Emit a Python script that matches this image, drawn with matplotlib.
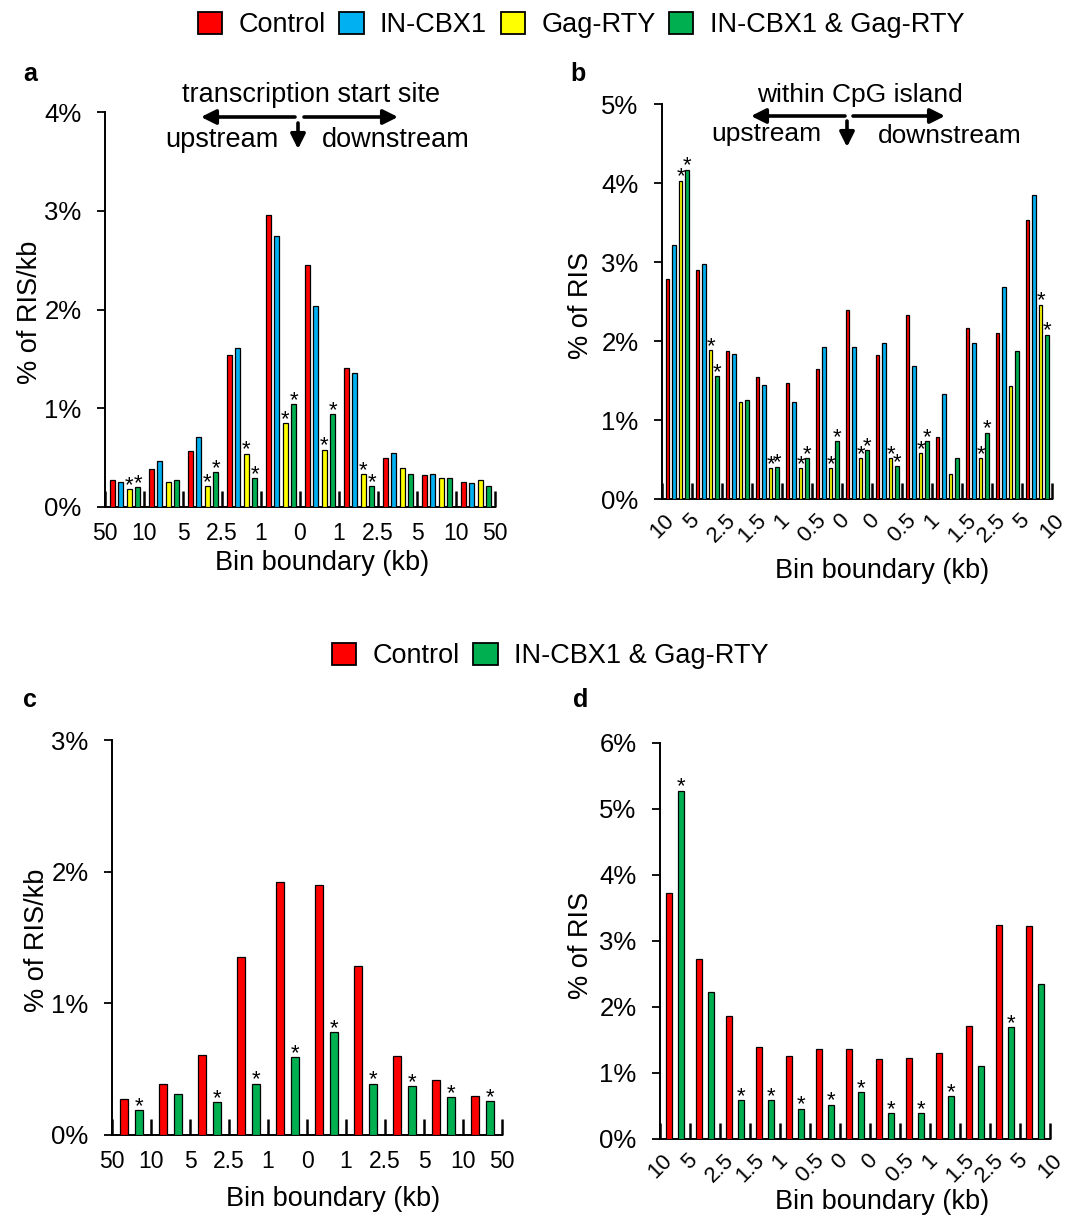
import matplotlib
matplotlib.use("Agg")
import matplotlib.pyplot as plt
import numpy as np
from matplotlib.patches import Patch, FancyArrowPatch

plt.rcParams["font.family"] = ["Liberation Sans", "DejaVu Sans"]

# colours (Excel palette)
RED = "#FF0000"
BLUE = "#00B0F0"
YELLOW = "#FFFF00"
GREEN = "#00B050"

series_names = ["Control", "IN-CBX1", "Gag-RTY", "IN-CBX1 & Gag-RTY"]

# bin boundary labels
tss_labels = ["50", "10", "5", "2.5", "1", "0", "1", "2.5", "5", "10", "50"]
cpg_labels = ["10", "5", "2.5", "1.5", "1", "0.5", "0", "0", "0.5", "1", "1.5", "2.5", "5", "10"]

# panel a: % of RIS/kb around TSS
a_ctrl = [0.27, 0.38, 0.57, 1.54, 2.96, 2.45, 1.41, 0.50, 0.32, 0.25]
a_cbx1 = [0.25, 0.47, 0.71, 1.61, 2.74, 2.04, 1.36, 0.55, 0.33, 0.24]
a_gag = [0.18, 0.25, 0.21, 0.54, 0.85, 0.58, 0.33, 0.39, 0.29, 0.27]
a_both = [0.20, 0.27, 0.35, 0.29, 1.04, 0.94, 0.21, 0.33, 0.29, 0.21]
a_gag_sig = [1, 0, 1, 1, 1, 1, 1, 0, 0, 0]
a_both_sig = [1, 0, 1, 1, 1, 1, 1, 0, 0, 0]

# panel b: % of RIS around CpG islands
b_ctrl = [2.79, 2.90, 1.87, 1.54, 1.47, 1.65, 2.39, 1.82, 2.33, 0.79, 2.16, 2.10, 3.53]
b_cbx1 = [3.22, 2.98, 1.84, 1.44, 1.23, 1.92, 1.92, 1.98, 1.68, 1.33, 1.98, 2.68, 3.85]
b_gag = [4.03, 1.88, 1.23, 0.39, 0.39, 0.39, 0.52, 0.52, 0.58, 0.32, 0.52, 1.43, 2.46]
b_both = [4.17, 1.56, 1.25, 0.41, 0.52, 0.73, 0.62, 0.42, 0.73, 0.52, 0.84, 1.87, 2.08]
b_gag_sig = [1, 1, 0, 1, 1, 1, 1, 1, 1, 0, 1, 0, 1]
b_both_sig = [1, 1, 0, 1, 1, 1, 1, 1, 1, 0, 1, 0, 1]

# panel c: % of RIS/kb around TSS
c_ctrl = [0.27, 0.39, 0.61, 1.35, 1.92, 1.90, 1.28, 0.60, 0.42, 0.30]
c_both = [0.19, 0.31, 0.25, 0.39, 0.59, 0.78, 0.39, 0.37, 0.29, 0.26]
c_both_sig = [1, 0, 1, 1, 1, 1, 1, 1, 1, 1]

# panel d: % of RIS around CpG islands
d_ctrl = [3.72, 2.73, 1.87, 1.40, 1.26, 1.37, 1.37, 1.21, 1.23, 1.31, 1.71, 3.25, 3.22]
d_both = [5.28, 2.22, 0.59, 0.59, 0.46, 0.52, 0.71, 0.39, 0.39, 0.65, 1.10, 1.69, 2.35]
d_both_sig = [1, 0, 1, 1, 1, 1, 1, 1, 1, 1, 0, 1, 0]

W, H = 1083, 1215


def fx(px):
    return px / W


def fy(py):
    return 1 - py / H


def draw_bars(ax, data, colors, sigs, offsets, width, labels, ymax, ylabel, rotate=False):
    n = len(data[0])
    x = np.arange(n)
    for vals, col, off, sig in zip(data, colors, offsets, sigs):
        ax.bar(x + off, vals, width=width, color=col, edgecolor="black", linewidth=0.9, zorder=3)
        if sig is None:
            continue
        for xi, v, s in zip(x, vals, sig):
            if s:
                ax.annotate("*", (xi + off, v), xytext=(0, -5), textcoords="offset points",
                            ha="center", va="bottom", fontsize=16)
    ax.set_xlim(-0.5, n - 0.5)
    ax.set_ylim(0, ymax)
    ticks = np.arange(0, ymax + 0.5, 1)
    ax.set_yticks(ticks)
    ax.set_yticklabels([f"{int(t)}%" for t in ticks])
    ax.set_xticks(np.arange(n + 1) - 0.5)
    if rotate:
        ax.set_xticklabels(labels, rotation=45, ha="center", fontsize=16)
        ax.tick_params(axis="x", pad=8)
    else:
        ax.set_xticklabels(labels, fontsize=16.5)
        ax.tick_params(axis="x", pad=11)
    ax.tick_params(axis="x", direction="in", length=11.5, width=1.8)
    ax.tick_params(axis="y", direction="out", length=6, width=1.3, labelsize=18.5, pad=11)
    for s in ["top", "right"]:
        ax.spines[s].set_visible(False)
    for s in ["left", "bottom"]:
        ax.spines[s].set_linewidth(1.4)
    ax.set_ylabel(ylabel, fontsize=19.5)
    ax.set_xlabel("Bin boundary (kb)", fontsize=19.5)


fig = plt.figure(figsize=(W / 100, H / 100), dpi=100)

off4 = [-0.317, -0.1, 0.118, 0.338]
off2 = [-0.187, 0.196]

ax_a = fig.add_axes([fx(105), fy(507), fx(390), 395 / H])
draw_bars(ax_a, [a_ctrl, a_cbx1, a_gag, a_both], [RED, BLUE, YELLOW, GREEN],
          [None, None, a_gag_sig, a_both_sig], off4, 0.13, tss_labels, 4, "% of RIS/kb")
ax_a.yaxis.set_label_coords(-0.16, 0.494)
ax_a.xaxis.set_label_coords(0.556, -0.108)

ax_b = fig.add_axes([fx(662), fy(499), fx(390), 395 / H])
draw_bars(ax_b, [b_ctrl, b_cbx1, b_gag, b_both], [RED, BLUE, YELLOW, GREEN],
          [None, None, b_gag_sig, b_both_sig], off4, 0.13, cpg_labels, 5, "% of RIS", rotate=True)
ax_b.yaxis.set_label_coords(-0.174, 0.489)
ax_b.xaxis.set_label_coords(0.564, -0.149)

ax_c = fig.add_axes([fx(112), fy(1135), fx(390), 395 / H])
draw_bars(ax_c, [c_ctrl, c_both], [RED, GREEN], [None, c_both_sig], off2, 0.205,
          tss_labels, 3, "% of RIS/kb")
ax_c.yaxis.set_label_coords(-0.159, 0.494)
ax_c.xaxis.set_label_coords(0.567, -0.128)

ax_d = fig.add_axes([fx(660), fy(1139), fx(390), 396 / H])
draw_bars(ax_d, [d_ctrl, d_both], [RED, GREEN], [None, d_both_sig], off2, 0.2,
          cpg_labels, 6, "% of RIS", rotate=True)
ax_d.yaxis.set_label_coords(-0.169, 0.49)
ax_d.xaxis.set_label_coords(0.569, -0.126)

# panel letters
for letter, px, py in [("a", 30, 74), ("b", 578, 74), ("c", 30, 700), ("d", 581, 700)]:
    fig.text(fx(px), fy(py), letter, fontsize=18, fontweight="bold", ha="center", va="center")

# legends
handles4 = [Patch(facecolor=c, edgecolor="black", linewidth=1.3) for c in [RED, BLUE, YELLOW, GREEN]]
fig.legend(handles4, series_names, loc="center", bbox_to_anchor=(fx(581), fy(25)), ncol=4,
           frameon=False, fontsize=19.5, handlelength=0.9, handleheight=0.9,
           handletextpad=0.6, columnspacing=0.5)
handles2 = [Patch(facecolor=c, edgecolor="black", linewidth=1.3) for c in [RED, GREEN]]
fig.legend(handles2, ["Control", "IN-CBX1 & Gag-RTY"], loc="center", bbox_to_anchor=(fx(550), fy(656)),
           ncol=2, frameon=False, fontsize=19.5, handlelength=0.9, handleheight=0.9,
           handletextpad=0.6, columnspacing=0.5)


def direction_marks(title, cx, cy, lx0, lx1, rx0, rx1, ay, dx, dy0, dy1, up_x, up_y, dn_x, dn_y, fs):
    fig.text(fx(cx), fy(cy), title, fontsize=fs, ha="center", va="center")
    arrow = dict(arrowstyle="-|>", lw=2.6, color="black", mutation_scale=22, shrinkA=0, shrinkB=0,
                 transform=fig.transFigure)
    fig.add_artist(FancyArrowPatch((fx(lx0), fy(ay)), (fx(lx1), fy(ay)), **arrow))
    fig.add_artist(FancyArrowPatch((fx(rx0), fy(ay)), (fx(rx1), fy(ay)), **arrow))
    fig.add_artist(FancyArrowPatch((fx(dx), fy(dy0)), (fx(dx), fy(dy1)), **arrow))
    fig.text(fx(up_x), fy(up_y), "upstream", fontsize=fs, ha="center", va="center")
    fig.text(fx(dn_x), fy(dn_y), "downstream", fontsize=fs, ha="center", va="center")


direction_marks("transcription start site", 311, 95, 295, 201, 304, 398, 117, 298, 123, 149,
                222, 140, 396, 140, 19.5)
direction_marks("within CpG island", 860, 95, 845, 751, 853, 945, 116, 847, 121, 147,
                766, 134, 950, 136, 19)

fig.savefig("out.png", dpi=100)
